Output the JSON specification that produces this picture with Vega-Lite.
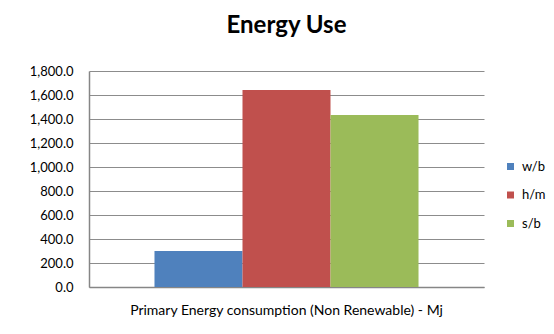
{
  "$schema": "https://vega.github.io/schema/vega-lite/v6.json",
  "width": 395,
  "height": 216,
  "autosize": {"type": "none"},
  "padding": {"left": 89, "top": 71, "right": 70, "bottom": 47},
  "background": "white",
  "title": {
    "text": "Energy Use",
    "font": "Lato",
    "fontSize": 24,
    "fontWeight": "bold",
    "color": "black",
    "anchor": "middle",
    "offset": 27
  },
  "data": {
    "values": [
      {"category": "Primary Energy consumption  (Non Renewable) - Mj", "series": "w/b", "value": 300},
      {"category": "Primary Energy consumption  (Non Renewable) - Mj", "series": "h/m", "value": 1642},
      {"category": "Primary Energy consumption  (Non Renewable) - Mj", "series": "s/b", "value": 1433}
    ]
  },
  "mark": {"type": "bar"},
  "encoding": {
    "x": {
      "field": "category",
      "type": "nominal",
      "scale": {"paddingOuter": 0.248, "paddingInner": 0},
      "axis": {
        "title": null,
        "labelAngle": 0,
        "ticks": false,
        "domainColor": "#868686",
        "domainWidth": 1.5,
        "labelFont": "Lato",
        "labelFontSize": 14,
        "labelColor": "black",
        "labelPadding": 16,
        "labelLimit": 0
      }
    },
    "xOffset": {
      "field": "series",
      "type": "nominal",
      "sort": ["w/b", "h/m", "s/b"],
      "scale": {"paddingInner": 0, "paddingOuter": 0}
    },
    "y": {
      "field": "value",
      "type": "quantitative",
      "scale": {"domain": [0, 1800], "nice": false},
      "axis": {
        "title": null,
        "values": [0, 200, 400, 600, 800, 1000, 1200, 1400, 1600, 1800],
        "format": ",.1f",
        "ticks": false,
        "labelPadding": 16,
        "labelFont": "Lato",
        "labelFontSize": 13,
        "labelColor": "black",
        "gridColor": "#8c8c8c",
        "gridWidth": 1,
        "domainColor": "#868686",
        "domainWidth": 1.5
      }
    },
    "color": {
      "field": "series",
      "type": "nominal",
      "sort": ["w/b", "h/m", "s/b"],
      "scale": {"domain": ["w/b", "h/m", "s/b"], "range": ["#4F81BD", "#C0504D", "#9BBB59"]},
      "legend": {
        "title": null,
        "orient": "none",
        "legendX": 415,
        "legendY": 89,
        "symbolType": "square",
        "symbolSize": 49,
        "symbolStrokeWidth": 0,
        "labelFont": "Lato",
        "labelFontSize": 13,
        "labelColor": "black",
        "labelOffset": 5,
        "rowPadding": 14.5
      }
    }
  },
  "config": {"view": {"stroke": null}}
}
